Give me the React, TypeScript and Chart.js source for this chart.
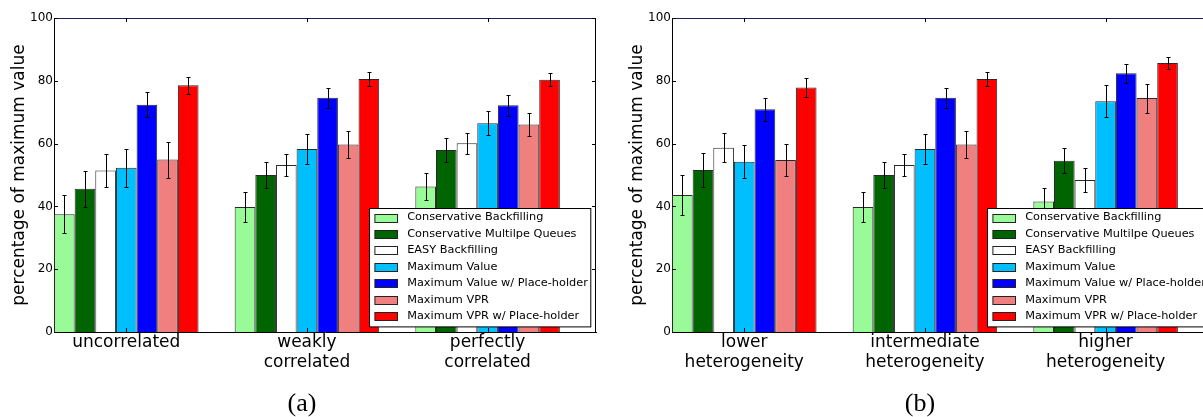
import React, { useEffect, useRef } from "react";
import { Chart, registerables } from "chart.js";

Chart.register(...registerables);

const seriesNames = [
  "Conservative Backfilling",
  "Conservative Multilpe Queues",
  "EASY Backfilling",
  "Maximum Value",
  "Maximum Value w/ Place-holder",
  "Maximum VPR",
  "Maximum VPR w/ Place-holder",
];
const seriesColors = ["#98FB98", "#006400", "#FFFFFF", "#00BFFF", "#0000FF", "#F08080", "#FF0000"];

const categoriesA = [["uncorrelated"], ["weakly", "correlated"], ["perfectly", "correlated"]];
const categoriesB = [["lower", "heterogeneity"], ["intermediate", "heterogeneity"], ["higher", "heterogeneity"]];

const yTickValues = [0, 20, 40, 60, 80, 100];
const yAxisTitle = "percentage of maximum value";
const captionA = "(a)";
const captionB = "(b)";

// panel (a)
const consBackfillA = [37.5, 39.8, 46.3];
const consMultiQueuesA = [45.6, 50.0, 58.0];
const easyBackfillA = [51.4, 53.2, 60.1];
const maxValueA = [52.3, 58.3, 66.5];
const maxValuePhA = [72.4, 74.6, 72.2];
const maxVprA = [54.9, 59.7, 66.1];
const maxVprPhA = [78.6, 80.6, 80.3];

const consBackfillErrA = [6.0, 4.9, 4.4];
const consMultiQueuesErrA = [5.7, 4.2, 3.8];
const easyBackfillErrA = [5.3, 3.6, 3.3];
const maxValueErrA = [6.0, 4.8, 3.8];
const maxValuePhErrA = [4.0, 3.2, 3.3];
const maxVprErrA = [5.7, 4.4, 3.7];
const maxVprPhErrA = [2.7, 2.3, 2.1];

// panel (b)
const consBackfillB = [43.6, 39.8, 41.6];
const consMultiQueuesB = [51.6, 50.0, 54.5];
const easyBackfillB = [58.7, 53.2, 48.4];
const maxValueB = [54.2, 58.3, 73.5];
const maxValuePhB = [70.9, 74.6, 82.4];
const maxVprB = [54.8, 59.7, 74.5];
const maxVprPhB = [77.9, 80.6, 85.7];

const consBackfillErrB = [6.3, 4.9, 4.2];
const consMultiQueuesErrB = [5.3, 4.2, 4.0];
const easyBackfillErrB = [4.6, 3.6, 3.8];
const maxValueErrB = [5.3, 4.8, 5.1];
const maxValuePhErrB = [3.7, 3.2, 3.0];
const maxVprErrB = [5.1, 4.4, 4.6];
const maxVprPhErrB = [3.0, 2.3, 2.0];

const valuesA = [consBackfillA, consMultiQueuesA, easyBackfillA, maxValueA, maxValuePhA, maxVprA, maxVprPhA];
const errorsA = [consBackfillErrA, consMultiQueuesErrA, easyBackfillErrA, maxValueErrA, maxValuePhErrA, maxVprErrA, maxVprPhErrA];
const valuesB = [consBackfillB, consMultiQueuesB, easyBackfillB, maxValueB, maxValuePhB, maxVprB, maxVprPhB];
const errorsB = [consBackfillErrB, consMultiQueuesErrB, easyBackfillErrB, maxValueErrB, maxValuePhErrB, maxVprErrB, maxVprPhErrB];

// bars of a group occupy [i, i + 0.8] like matplotlib's left-aligned bars
const GROUP_CENTER = 0.4;
const FONT = '"DejaVu Sans", sans-serif';

const decorPlugin = {
  id: "panelDecor",
  afterDatasetsDraw(chart: any) {
    const { ctx, scales } = chart;
    const y = scales.y;
    ctx.save();
    ctx.strokeStyle = "#000";
    ctx.lineWidth = 1;
    chart.data.datasets.forEach((ds: any, di: number) => {
      const meta = chart.getDatasetMeta(di);
      meta.data.forEach((el: any, i: number) => {
        const v = ds.data[i].y;
        const e = ds.errorBars[i];
        const x = Math.round(el.x) + 0.5;
        const yt = Math.round(y.getPixelForValue(v + e)) + 0.5;
        const yb = Math.round(y.getPixelForValue(v - e)) + 0.5;
        ctx.beginPath();
        ctx.moveTo(x, yt);
        ctx.lineTo(x, yb);
        ctx.moveTo(x - 2, yt);
        ctx.lineTo(x + 2, yt);
        ctx.moveTo(x - 2, yb);
        ctx.lineTo(x + 2, yb);
        ctx.stroke();
      });
    });
    ctx.restore();
  },
  afterDraw(chart: any) {
    const { ctx, chartArea: ca, scales } = chart;
    ctx.save();
    // spines
    ctx.lineWidth = 1;
    ctx.strokeStyle = "#000";
    ctx.beginPath();
    ctx.moveTo(Math.round(ca.right) - 0.5, ca.top);
    ctx.lineTo(Math.round(ca.right) - 0.5, ca.bottom);
    ctx.stroke();
    ctx.strokeStyle = "#1e1e5a";
    ctx.beginPath();
    ctx.moveTo(ca.left, Math.round(ca.top) + 0.5);
    ctx.lineTo(ca.right, Math.round(ca.top) + 0.5);
    ctx.stroke();
    // inward ticks
    ctx.strokeStyle = "#000";
    ctx.beginPath();
    scales.x.ticks.forEach((t: any) => {
      const px = Math.round(scales.x.getPixelForValue(t.value)) + 0.5;
      ctx.moveTo(px, ca.top);
      ctx.lineTo(px, ca.top + 4);
      ctx.moveTo(px, ca.bottom);
      ctx.lineTo(px, ca.bottom - 4);
    });
    scales.y.ticks.forEach((t: any) => {
      const py = Math.round(scales.y.getPixelForValue(t.value)) + 0.5;
      ctx.moveTo(ca.left, py);
      ctx.lineTo(ca.left + 4, py);
      ctx.moveTo(ca.right, py);
      ctx.lineTo(ca.right - 4, py);
    });
    ctx.stroke();

    // legend box
    ctx.font = "11.3px " + FONT;
    const textW = Math.max(...seriesNames.map((n) => ctx.measureText(n).width));
    const textX = 37.7;
    const boxW = textX + textW + 3;
    const boxH = 118.4;
    const bx = Math.round(ca.right - 6 - boxW) + 0.5;
    const by = Math.round(ca.bottom - 5.3 - boxH) + 0.5;
    ctx.fillStyle = "#fff";
    ctx.fillRect(bx, by, boxW, boxH);
    ctx.strokeStyle = "#000";
    ctx.strokeRect(bx, by, boxW, boxH);
    seriesNames.forEach((name, k) => {
      const cy = by + 9 + k * 16.45;
      ctx.fillStyle = seriesColors[k];
      ctx.fillRect(bx + 5.4, Math.round(cy - 4) + 0.5, 22.6, 8);
      ctx.strokeStyle = "#222";
      ctx.strokeRect(bx + 5.4, Math.round(cy - 4) + 0.5, 22.6, 8);
      ctx.fillStyle = "#000";
      ctx.textBaseline = "middle";
      ctx.textAlign = "left";
      ctx.fillText(name, bx + textX, cy);
    });
    ctx.restore();
  },
};

function BarPanel({ categories, values, errors }: { categories: string[][]; values: number[][]; errors: number[][] }) {
  const ref = useRef<HTMLCanvasElement>(null);
  useEffect(() => {
    const positions = categories.map((_, i) => i + GROUP_CENTER);
    const chart = new Chart(ref.current as HTMLCanvasElement, {
      type: "bar",
      data: {
        datasets: seriesNames.map((name, s) => ({
          label: name,
          data: values[s].map((v, i) => ({ x: positions[i], y: v })),
          errorBars: errors[s],
          backgroundColor: seriesColors[s],
          borderColor: "#2a2a2a",
          borderWidth: 1,
          categoryPercentage: 0.8,
          barPercentage: 1,
        })) as any,
      },
      options: {
        animation: false,
        responsive: false,
        layout: { padding: { left: 0, top: 18, right: 4, bottom: 0 } },
        plugins: { legend: { display: false }, tooltip: { enabled: false } },
        scales: {
          x: {
            type: "linear",
            min: 0,
            max: categories.length,
            offset: false,
            grid: { display: false, drawTicks: false, offset: false },
            border: { display: true, color: "#000", width: 1 },
            afterBuildTicks: (s: any) => {
              s.ticks = positions.map((p) => ({ value: p }));
            },
            afterFit: (s: any) => {
              s.height = 85;
            },
            ticks: {
              autoSkip: false,
              maxRotation: 0,
              padding: 0,
              color: "#000",
              font: { family: FONT, size: 17, lineHeight: 1.2 },
              callback: (_v: any, i: number) => categories[i],
            },
          },
          y: {
            min: 0,
            max: 100,
            grid: { display: false, drawTicks: false },
            border: { display: true, color: "#000", width: 1 },
            afterBuildTicks: (s: any) => {
              s.ticks = yTickValues.map((v) => ({ value: v }));
            },
            afterFit: (s: any) => {
              s.width = 54;
            },
            ticks: {
              padding: 1,
              color: "#000",
              font: { family: FONT, size: 12 },
            },
            title: {
              display: true,
              text: yAxisTitle,
              color: "#000",
              font: { family: FONT, size: 17, lineHeight: 1.2 },
              padding: { top: 9, bottom: 0 },
            },
          },
        },
      } as any,
      plugins: [decorPlugin],
    });
    return () => chart.destroy();
  }, []);
  return <canvas ref={ref} width={600} height={417} />;
}

const captionStyle: React.CSSProperties = {
  position: "absolute",
  width: 60,
  textAlign: "center",
  fontFamily: '"Liberation Serif", serif',
  fontSize: 26,
  lineHeight: "26px",
  color: "#000",
};

export default function App() {
  return (
    <div style={{ position: "fixed", left: 0, top: 0, width: 1203, height: 417, overflow: "hidden", background: "#fff" }}>
      <div style={{ position: "absolute", left: 0, top: 0 }}>
        <BarPanel categories={categoriesA} values={valuesA} errors={errorsA} />
      </div>
      <div style={{ position: "absolute", left: 618, top: 0 }}>
        <BarPanel categories={categoriesB} values={valuesB} errors={errorsB} />
      </div>
      <div style={{ ...captionStyle, left: 302 - 30, top: 390 }}>{captionA}</div>
      <div style={{ ...captionStyle, left: 920 - 30, top: 390 }}>{captionB}</div>
    </div>
  );
}
